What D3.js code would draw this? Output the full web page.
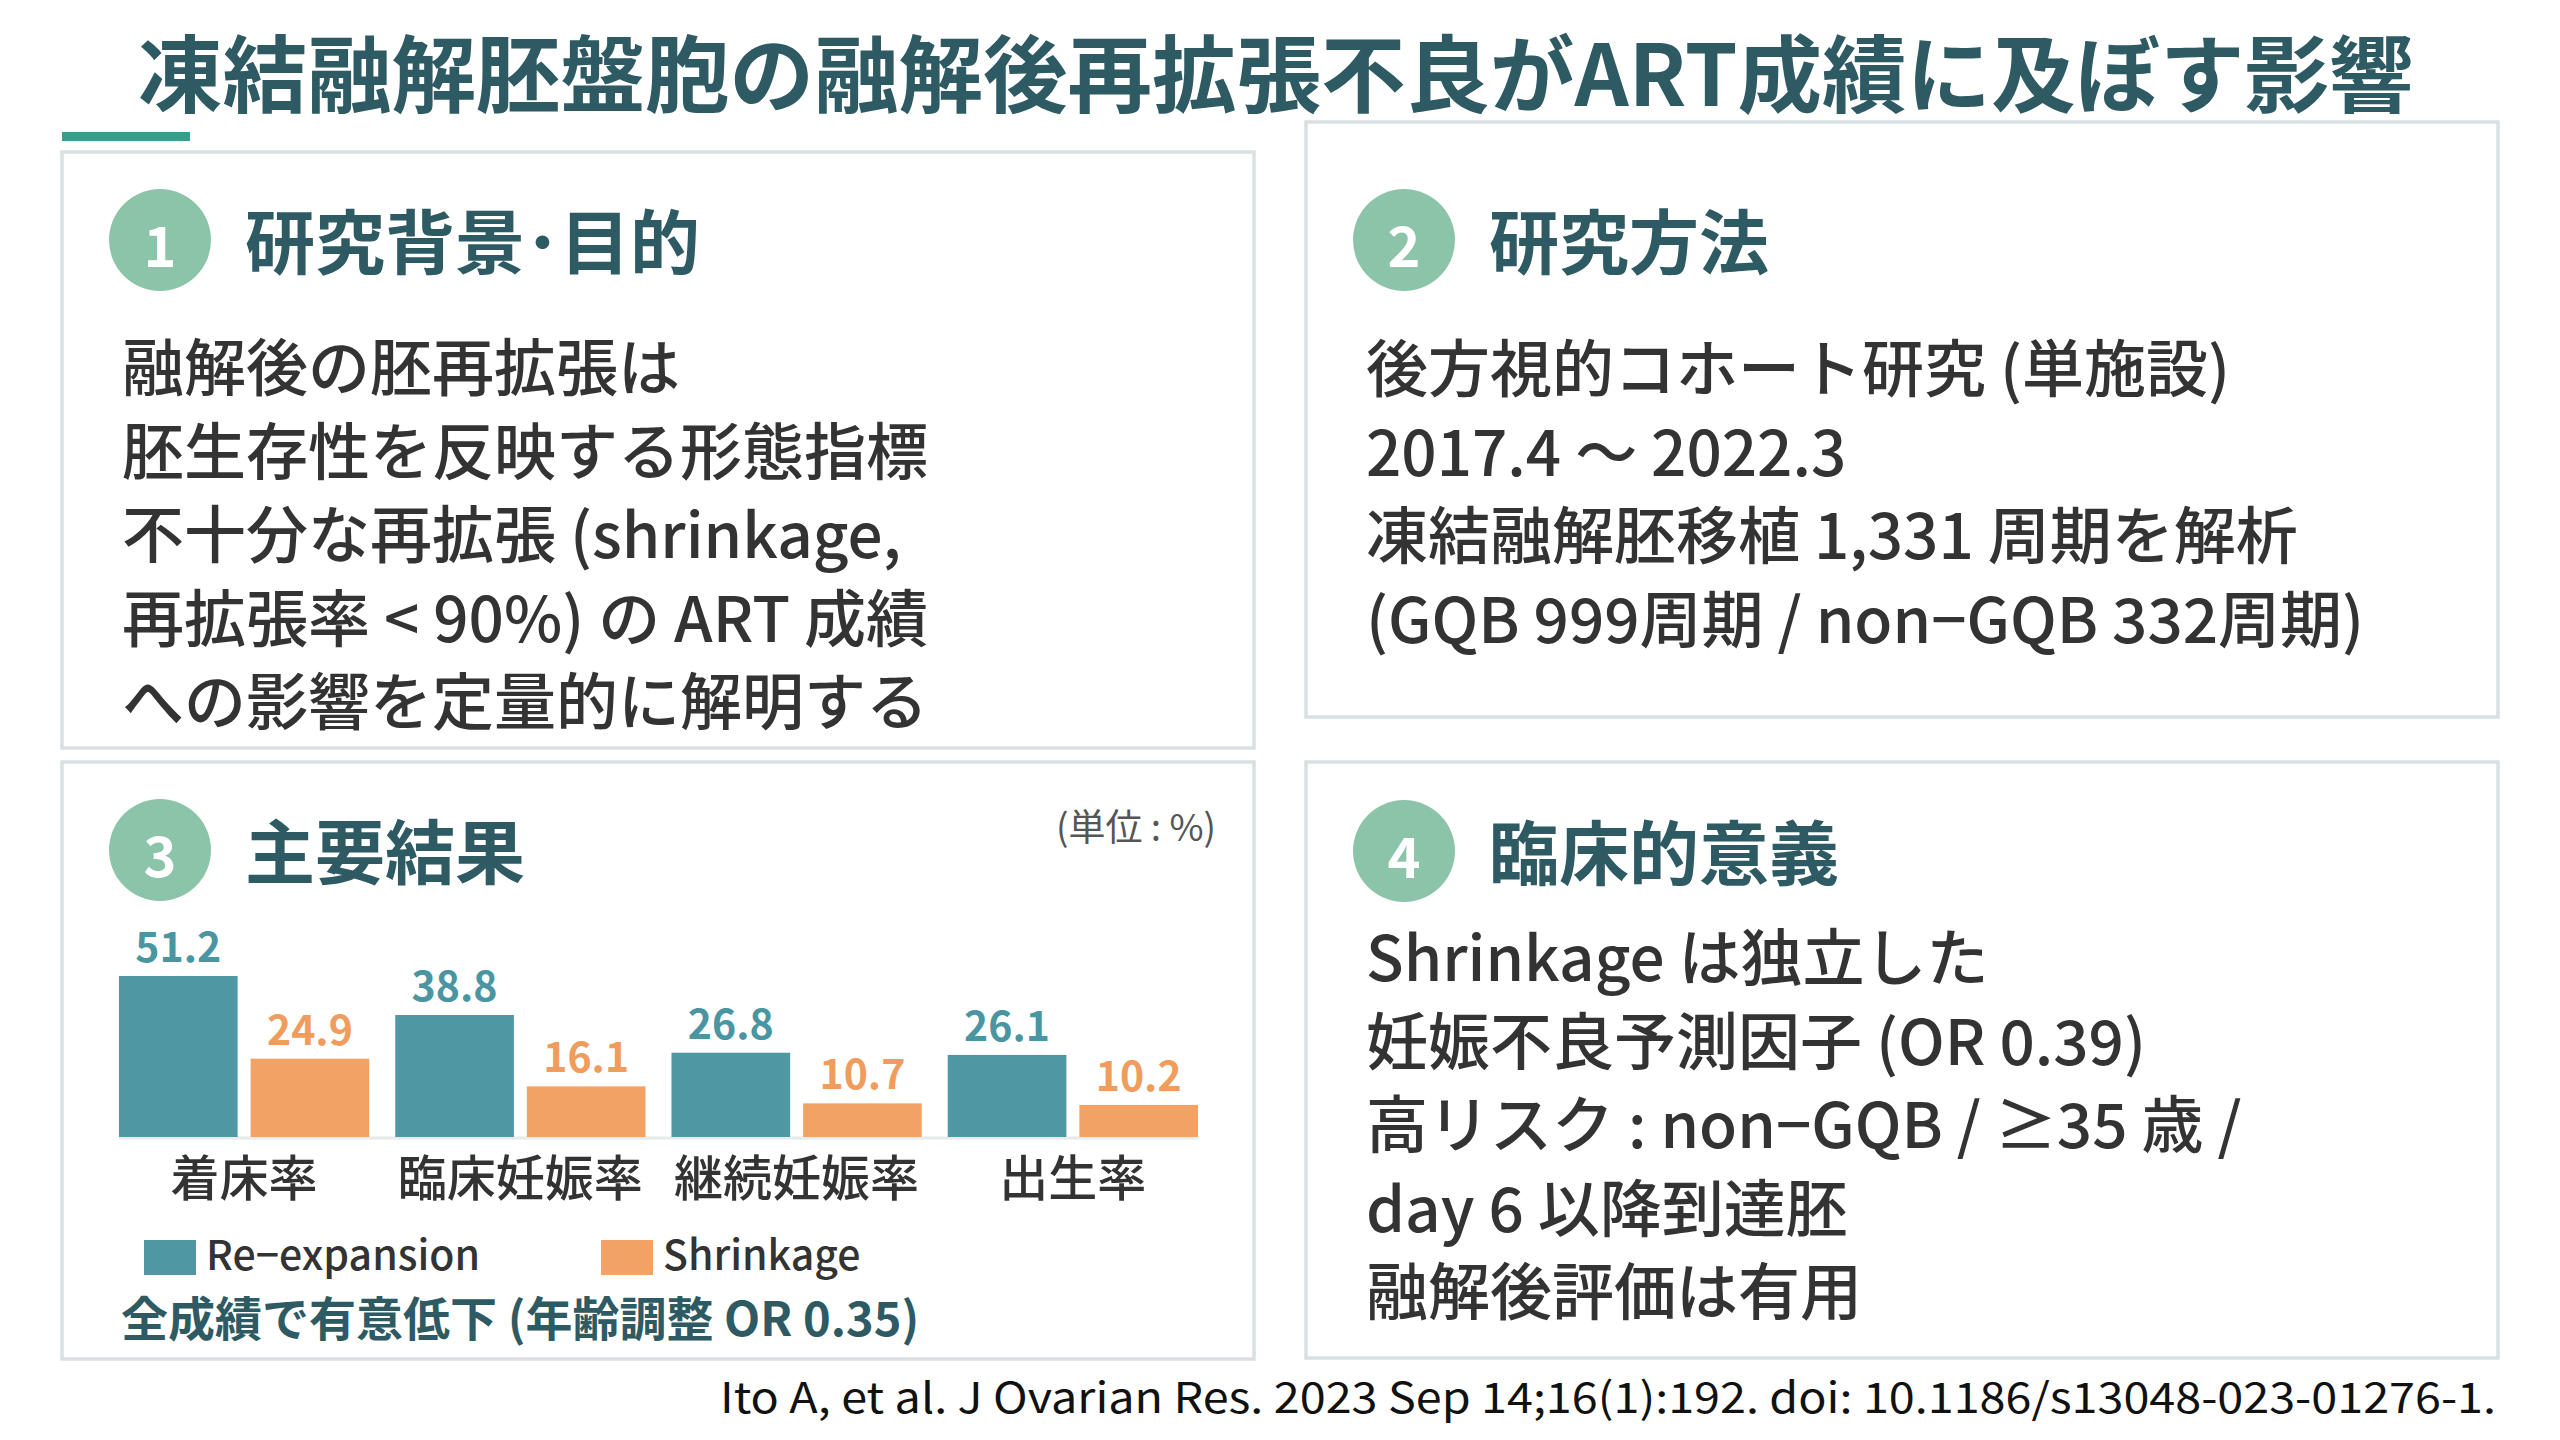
<!DOCTYPE html>
<html>
<head>
<meta charset="utf-8">
<script src="https://cdn.jsdelivr.net/npm/d3@7"></script>
<style>
  html, body { margin: 0; padding: 0; background: #fff; }
  svg text { font-family: "Noto Sans CJK JP", "Noto Sans", sans-serif; }
</style>
</head>
<body>
<script>
// chart data
var categories = ["着床率", "臨床妊娠率", "継続妊娠率", "出生率"];
var seriesNames = ["Re−expansion", "Shrinkage"];
var reexpansion = [51.2, 38.8, 26.8, 26.1];
var shrinkage = [24.9, 16.1, 10.7, 10.2];

// slide texts
var title = "凍結融解胚盤胞の融解後再拡張不良がART成績に及ぼす影響";
var headings = ["研究背景･目的", "研究方法", "主要結果", "臨床的意義"];
var bgLines = [
  "融解後の胚再拡張は",
  "胚生存性を反映する形態指標",
  "不十分な再拡張 (shrinkage,",
  "再拡張率 < 90%) の ART 成績",
  "への影響を定量的に解明する"
];
var methodLines = [
  "後方視的コホート研究 (単施設)",
  "2017.4 〜 2022.3",
  "凍結融解胚移植 1,331 周期を解析",
  "(GQB 999周期 / non−GQB 332周期)"
];
var meaningLines = [
  "Shrinkage は独立した",
  "妊娠不良予測因子 (OR 0.39)",
  "高リスク : non−GQB / ≥35 歳 /",
  "day 6 以降到達胚",
  "融解後評価は有用"
];
var unitNote = "(単位 : %)";
var resultNote = "全成績で有意低下 (年齢調整 OR 0.35)";
var citation = "Ito A, et al. J Ovarian Res. 2023 Sep 14;16(1):192. doi: 10.1186/s13048-023-01276-1.";

var W = 2560, H = 1440;
var dark = "#2d5a63", body = "#333333", badge = "#8cc4aa";
var colors = ["#4e97a3", "#f2a265"];
var labelColors = ["#4a95a2", "#f09c5c"];

var svg = d3.select("body").append("svg")
  .attr("width", W).attr("height", H)
  .attr("viewBox", "0 0 " + W + " " + H);

svg.append("rect").attr("width", W).attr("height", H).attr("fill", "#fff");

// title
svg.append("text")
  .attr("x", 138).attr("y", 69)
  .attr("dominant-baseline", "central")
  .attr("font-size", 84.5).attr("font-weight", 700)
  .attr("fill", dark)
  .text(title);

svg.append("rect")
  .attr("x", 62).attr("y", 132).attr("width", 128).attr("height", 9)
  .attr("fill", "#3a9d8b");

// panels
var panels = [
  {x: 62, y: 152, w: 1192, h: 596, n: 1, lines: bgLines, ly: 364},
  {x: 1306, y: 122, w: 1192, h: 595, n: 2, lines: methodLines, ly: 365},
  {x: 62, y: 762, w: 1192, h: 597, n: 3, lines: [], ly: 0},
  {x: 1306, y: 762, w: 1192, h: 596, n: 4, lines: meaningLines, ly: 954}
];
var badgeY = [240, 240, 850, 851];

panels.forEach(function(p, i) {
  var g = svg.append("g");
  g.append("rect")
    .attr("x", p.x).attr("y", p.y).attr("width", p.w).attr("height", p.h)
    .attr("fill", "#fff").attr("stroke", "#d9e0e2").attr("stroke-width", 3.5);

  var cx = p.x + 98, cy = badgeY[i];
  g.append("circle").attr("cx", cx).attr("cy", cy).attr("r", 51).attr("fill", badge);
  g.append("text")
    .attr("x", cx).attr("y", cy + 2)
    .attr("text-anchor", "middle").attr("dominant-baseline", "central")
    .attr("font-family", "Roboto, sans-serif")
    .attr("font-size", 56).attr("font-weight", 700).attr("fill", "#fff")
    .text(p.n);
  g.append("text")
    .attr("x", p.x + 183).attr("y", cy - 2)
    .attr("dominant-baseline", "central")
    .attr("font-size", 70).attr("font-weight", 700).attr("fill", dark)
    .text(headings[i]);

  g.selectAll("text.line").data(p.lines).join("text")
    .attr("class", "line")
    .attr("x", p.x + 60)
    .attr("y", function(d, k) { return p.ly + k * 83.5; })
    .attr("dominant-baseline", "central")
    .attr("font-size", 62).attr("font-weight", 500).attr("fill", body)
    .text(function(d) { return d; });
});

// bar chart (panel 3)
var x0 = d3.scaleBand().domain(categories)
  .range([106, 1211]).paddingInner(0.094).paddingOuter(0.047);
var x1 = d3.scaleBand().domain(seriesNames)
  .range([0, x0.bandwidth()]).paddingInner(0.0985);
var y = d3.scaleLinear().domain([0, 60]).range([1137, 948.3]);

var rows = categories.map(function(c, i) {
  return {cat: c, vals: [reexpansion[i], shrinkage[i]]};
});

var chart = svg.append("g");

chart.append("line")
  .attr("x1", x0.range()[0] + 13).attr("x2", x0.range()[1] - 13)
  .attr("y1", y(0) + 1).attr("y2", y(0) + 1)
  .attr("stroke", "#e6eaea").attr("stroke-width", 3);

var groups = chart.selectAll("g.grp").data(rows).join("g")
  .attr("class", "grp")
  .attr("transform", function(d) { return "translate(" + x0(d.cat) + ",0)"; });

groups.selectAll("rect").data(function(d) { return d.vals; }).join("rect")
  .attr("x", function(d, k) { return x1(seriesNames[k]); })
  .attr("y", function(d) { return y(d); })
  .attr("width", x1.bandwidth())
  .attr("height", function(d) { return y(0) - y(d); })
  .attr("fill", function(d, k) { return colors[k]; });

groups.selectAll("text.val").data(function(d) { return d.vals; }).join("text")
  .attr("class", "val")
  .attr("x", function(d, k) { return x1(seriesNames[k]) + x1.bandwidth() / 2; })
  .attr("y", function(d) { return y(d) - 32; })
  .attr("text-anchor", "middle").attr("dominant-baseline", "central")
  .attr("font-family", "Roboto, sans-serif")
  .attr("font-size", 41).attr("font-weight", 600)
  .attr("fill", function(d, k) { return labelColors[k]; })
  .text(function(d) { return d.toFixed(1); });

chart.selectAll("text.cat").data(categories).join("text")
  .attr("class", "cat")
  .attr("x", function(d) { return x0(d) + x0.bandwidth() / 2; })
  .attr("y", 1174)
  .attr("text-anchor", "middle").attr("dominant-baseline", "central")
  .attr("font-size", 49).attr("font-weight", 500).attr("fill", body)
  .text(function(d) { return d; });

// legend
var legendX = [144, 601];
var legend = chart.selectAll("g.leg").data(seriesNames).join("g")
  .attr("class", "leg")
  .attr("transform", function(d, k) { return "translate(" + legendX[k] + ",1240)"; });
legend.append("rect").attr("width", 52).attr("height", 35)
  .attr("fill", function(d, k) { return colors[k]; });
legend.append("text")
  .attr("x", 62).attr("y", 12)
  .attr("dominant-baseline", "central")
  .attr("font-size", 41).attr("font-weight", 500).attr("fill", body)
  .text(function(d) { return d; });

svg.append("text")
  .attr("x", 121).attr("y", 1315)
  .attr("dominant-baseline", "central")
  .attr("font-size", 47).attr("font-weight", 700).attr("fill", dark)
  .text(resultNote);

svg.append("text")
  .attr("x", 1216).attr("y", 825)
  .attr("text-anchor", "end").attr("dominant-baseline", "central")
  .attr("font-size", 37).attr("fill", "#555")
  .text(unitNote);

// reference
svg.append("text")
  .attr("x", 2496).attr("y", 1394)
  .attr("text-anchor", "end").attr("dominant-baseline", "central")
  .attr("font-family", "'Liberation Sans', Arial, sans-serif")
  .attr("font-size", 42).attr("fill", "#111")
  .attr("textLength", 1776).attr("lengthAdjust", "spacingAndGlyphs")
  .text(citation);
</script>
</body>
</html>
